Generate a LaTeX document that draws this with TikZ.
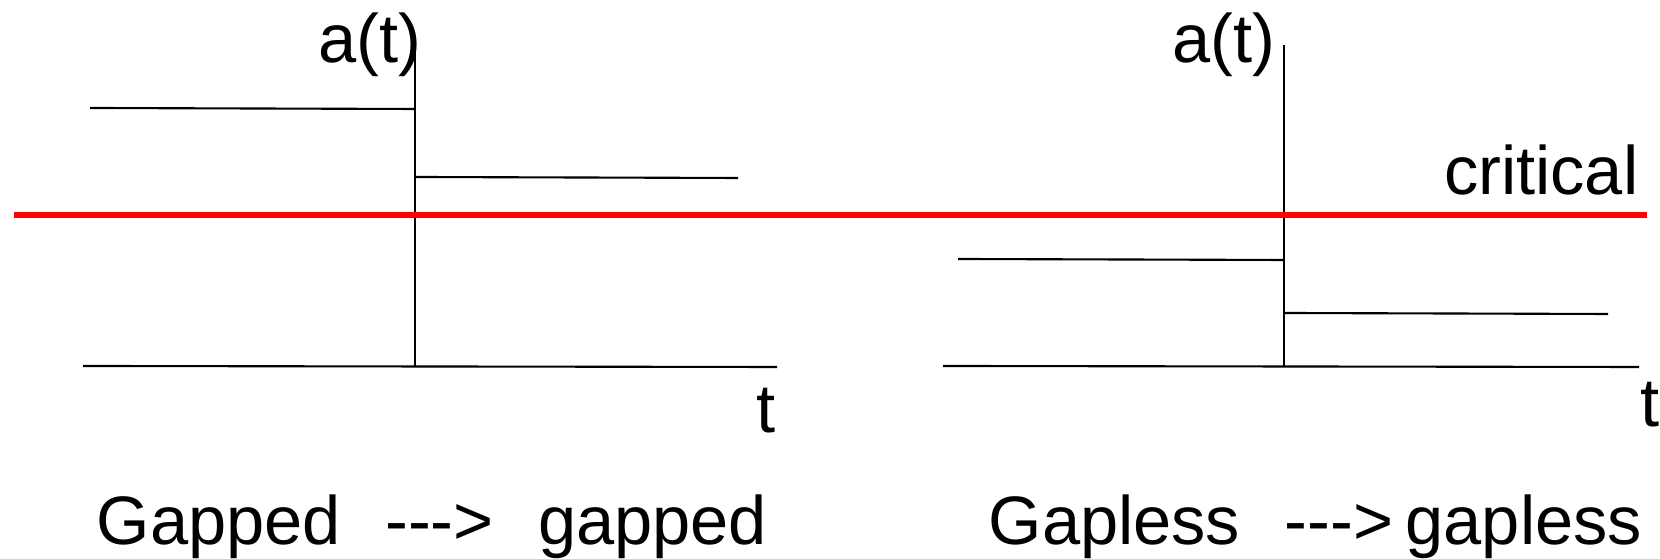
\documentclass[tikz,border=0pt]{standalone}
\usepackage{fontspec}
\setmainfont{Liberation Sans}
\begin{document}
\begin{tikzpicture}[x=0.01cm,y=-0.01cm,
  axis/.style={line width=0.6pt,black},
  level/.style={line width=0.6pt,black},
  crit/.style={line width=0.065cm,red},
  lbl/.style={inner sep=0pt,font=\fontsize{19.5}{23}\selectfont}]
\useasboundingbox (0,0) rectangle (1660,559);
% left panel
\coordinate (La0) at (415,43);
\coordinate (La1) at (415,366);
\coordinate (Lb0) at (83,366);
\coordinate (Lb1) at (777,367);
\coordinate (Lu0) at (90,108);
\coordinate (Lu1) at (415,109);
\coordinate (Lv0) at (415,177);
\coordinate (Lv1) at (738,178);
\draw[axis] (La0) -- (La1);
\draw[axis] (Lb0) -- (Lb1);
\draw[level] (Lu0) -- (Lu1);
\draw[level] (Lv0) -- (Lv1);
\node[lbl,anchor=base west] (Lat) at (318,63) {a(t)};
\node[lbl,anchor=base west] (Lt) at (756,433) {t};
\node[lbl,anchor=base west] (Lcap) at (96,545) {Gapped\hspace{0.65em}-{}-{}->\hspace{0.65em}gapped};
% right panel
\coordinate (Ra0) at (1284,45);
\coordinate (Ra1) at (1284,366);
\coordinate (Rb0) at (943,366);
\coordinate (Rb1) at (1639,367);
\coordinate (Ru0) at (958,259);
\coordinate (Ru1) at (1284,260);
\coordinate (Rv0) at (1284,313);
\coordinate (Rv1) at (1608,314);
\draw[axis] (Ra0) -- (Ra1);
\draw[axis] (Rb0) -- (Rb1);
\draw[level] (Ru0) -- (Ru1);
\draw[level] (Rv0) -- (Rv1);
\node[lbl,anchor=base east] (Rat) at (1276,63) {a(t)};
\node[lbl,anchor=base west] (Rt) at (1640,427) {t};
\node[lbl,anchor=base west] (Rcap) at (988,545) {Gapless\hspace{0.65em}-{}-{}->\hspace{0.18em}gapless};
% critical line
\coordinate (C0) at (14,215);
\coordinate (C1) at (1647,215);
\draw[crit] (C0) -- (C1);
\node[lbl,anchor=base east] (crit) at (1639,195) {critical};
\end{tikzpicture}
\end{document}
